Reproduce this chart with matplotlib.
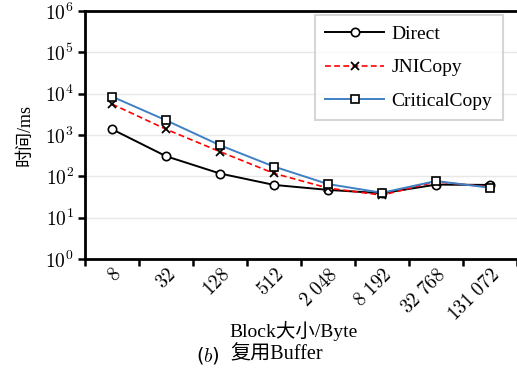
import matplotlib
matplotlib.use("Agg")
import matplotlib.pyplot as plt
from matplotlib.ticker import FixedLocator, FuncFormatter, NullFormatter
import numpy as np

plt.rcParams["mathtext.fontset"] = "cm"

block_labels = ["8", "32", "128", "512", "2 048", "8 192", "32 768", "131 072"]
direct = [1380, 307, 117, 62, 47, 39, 63, 62]
jni_copy = [5600, 1380, 395, 118, 52, 35, 74, 55]
critical_copy = [8500, 2270, 565, 172, 65, 40, 77, 53]

serif = ["Liberation Serif", "Noto Sans CJK SC"]

fig = plt.figure(figsize=(5.17, 3.79), dpi=100)
ax = fig.add_axes([85 / 517, 1 - 259 / 379, 432 / 517, 248 / 379])

x = np.arange(len(block_labels))
ax.plot(x, direct, color="black", lw=1.4, marker="o", ms=6,
        mfc="white", mec="black", mew=1.2, label="Direct", zorder=3)
ax.plot(x, jni_copy, color="red", lw=1.2, ls=(0, (3.5, 2)), marker="x", ms=5.5,
        mec="black", mew=1.3, label="JNICopy", zorder=4)
ax.plot(x, critical_copy, color="#3f80c4", lw=1.4, marker="s", ms=6,
        mfc="white", mec="black", mew=1.2, label="CriticalCopy", zorder=5)

ax.set_yscale("log")
ax.set_ylim(1, 1e6)
ax.yaxis.set_major_locator(FixedLocator([10.0 ** k for k in range(7)]))
ax.yaxis.set_minor_locator(FixedLocator([]))
ax.yaxis.set_major_formatter(FuncFormatter(lambda v, p: r"$10^{%d}$" % round(np.log10(v))))
ax.grid(axis="y", color="#e8e8e8", lw=1.0)
ax.set_axisbelow(True)

ax.set_xlim(-0.5, len(block_labels) - 0.5)
ax.set_xticks(np.arange(len(block_labels) + 1) - 0.5)
ax.xaxis.set_major_formatter(NullFormatter())
ax.set_xticks(x, minor=True)
ax.set_xticklabels([r"$%s$" % s.replace(" ", r"\ ") for s in block_labels], minor=True)
ax.tick_params(axis="x", which="minor", length=0, pad=4, labelsize=14)
for t in ax.get_xticklabels(minor=True):
    t.set_rotation(45)
    t.set_ha("right")
    t.set_va("top")
    t.set_rotation_mode("anchor")

ax.tick_params(axis="both", which="major", direction="out", width=1.8, length=5,
               labelsize=14, color="black")
ax.tick_params(axis="y", pad=3)

for side in ["left", "bottom", "top"]:
    ax.spines[side].set_linewidth(2.0)
ax.spines["right"].set_visible(False)

ax.set_ylabel("时间/ms", family=serif, fontsize=13, labelpad=8)
ax.set_xlabel("Block大小/Byte", family=serif, fontsize=14, labelpad=4)
ax.xaxis.set_label_coords((294 - 85) / 432, -0.25)

leg = ax.legend(loc="upper right", bbox_to_anchor=((503 - 85) / 432, (259 - 15) / 248),
                prop={"family": serif, "size": 14}, frameon=True, fancybox=False,
                edgecolor="#cccccc", handlelength=3.0, labelspacing=0.8,
                borderpad=0.55, handletextpad=0.4, borderaxespad=0)
leg.get_frame().set_linewidth(1.5)

# caption: italic panel letter followed by the CJK title
fig.text(220 / 517, 1 - 355 / 379, r"($\it{b}$)", fontsize=14, ha="right", va="center")
fig.text(230 / 517, 1 - 355 / 379, "复用Buffer", family=serif,
         fontsize=14.5, ha="left", va="center")

fig.savefig("out.png", dpi=100)
